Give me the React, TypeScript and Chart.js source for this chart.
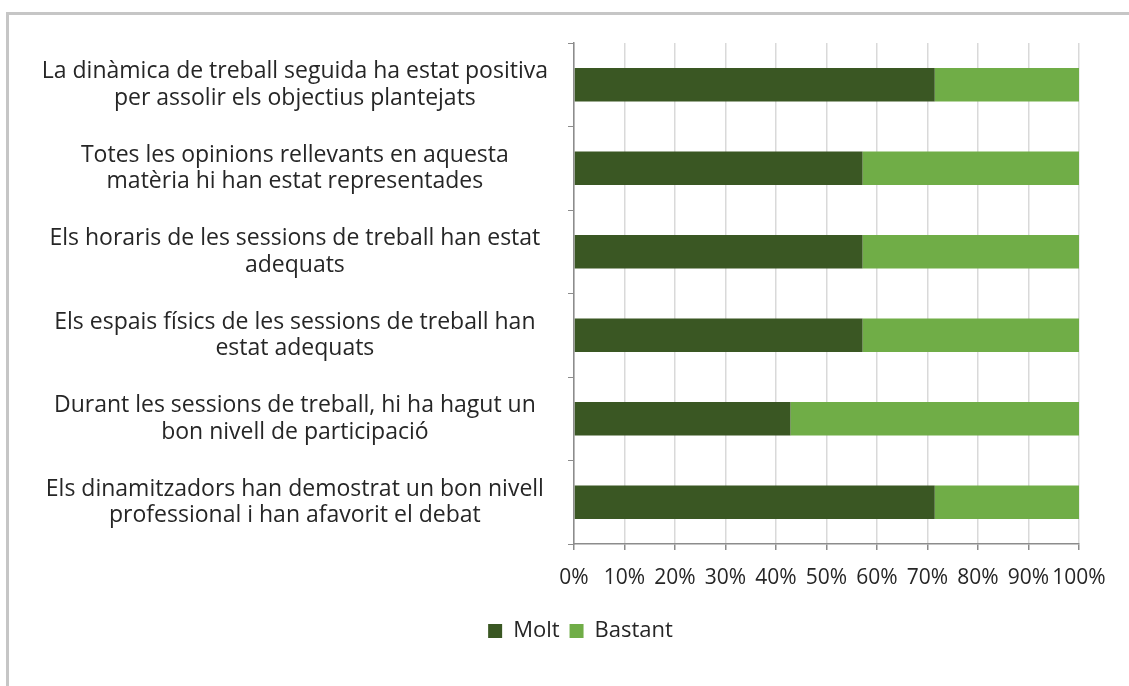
import React, { useEffect, useRef } from "react";
import { Chart, registerables } from "chart.js";

Chart.register(...registerables);

const categories: string[][] = [
  ["La dinàmica de treball seguida ha estat positiva", "per assolir els objectius plantejats"],
  ["Totes les opinions rellevants en aquesta", "matèria hi han estat representades"],
  ["Els horaris de les sessions de treball han estat", "adequats"],
  ["Els espais físics de les sessions de treball han", "estat adequats"],
  ["Durant les sessions de treball, hi ha hagut un", "bon nivell de participació"],
  ["Els dinamitzadors han demostrat un bon nivell", "professional i han afavorit el debat"],
];
const moltValues = [71.43, 57.14, 57.14, 57.14, 42.86, 71.43];
const bastantValues = [28.57, 42.86, 42.86, 42.86, 57.14, 28.57];
const seriesNames = ["Molt", "Bastant"];
const xTicks = [0, 10, 20, 30, 40, 50, 60, 70, 80, 90, 100];

const FONT = "'Open Sans', sans-serif";

export default function App() {
  const ref = useRef<HTMLCanvasElement | null>(null);
  useEffect(() => {
    if (!ref.current) return;
    const chart = new Chart(ref.current, {
      type: "bar",
      data: {
        labels: categories,
        datasets: [
          { label: seriesNames[0], data: moltValues, backgroundColor: "#3a5723", barPercentage: 0.8, categoryPercentage: 0.5 },
          { label: seriesNames[1], data: bastantValues, backgroundColor: "#70ad47", barPercentage: 0.8, categoryPercentage: 0.5 },
        ],
      },
      options: {
        indexAxis: "y",
        animation: false,
        responsive: false,
        layout: { padding: { top: 28, right: 0, bottom: 34, left: 0 } },
        plugins: {
          legend: {
            position: "bottom",
            labels: { font: { family: FONT, size: 22 }, color: "#262626", boxWidth: 14, boxHeight: 14, padding: 10 },
          },
          tooltip: { enabled: false },
        },
        scales: {
          x: {
            stacked: true,
            min: 0,
            max: 100,
            afterBuildTicks: (s: any) => { s.ticks = xTicks.map((v) => ({ value: v })); },
            afterFit: (s: any) => { s.height = 66; s.paddingLeft = 0; s.paddingRight = 0; },
            ticks: { callback: (v: any) => v + "%", font: { family: FONT, size: 21 }, color: "#262626", padding: 15, maxRotation: 0, autoSkip: false },
            grid: { color: "#d9d9d9", lineWidth: 1.5, tickColor: "#8c8c8c", tickLength: 6 },
            border: { color: "#8c8c8c", width: 1.5 },
          },
          y: {
            stacked: true,
            afterFit: (s: any) => { s.width = 565; s.paddingTop = 0; s.paddingBottom = 0; },
            ticks: { font: { family: FONT, size: 23, lineHeight: 1.15 }, color: "#262626", padding: 20, crossAlign: "center" },
            grid: { drawOnChartArea: false, color: "#8c8c8c", tickLength: 6 },
            border: { color: "#8c8c8c", width: 1.5 },
          },
          yRight: {
            type: "linear",
            position: "right",
            display: true,
            grid: { display: false },
            ticks: { display: false },
            border: { display: false },
            afterFit: (s: any) => { s.width = 73; s.paddingTop = 0; s.paddingBottom = 0; },
          },
        },
      },
    });
    return () => chart.destroy();
  }, []);
  return (
    <div
      style={{
        position: "fixed",
        left: 6,
        top: 12,
        width: 1123,
        height: 674,
        borderTop: "3px solid #c6c6c6",
        borderLeft: "3px solid #c6c6c6",
        overflow: "hidden",
        background: "#fff",
      }}
    >
      <canvas ref={ref} width={1143} height={671} style={{ display: "block", width: 1143, height: 671 }} />
    </div>
  );
}
